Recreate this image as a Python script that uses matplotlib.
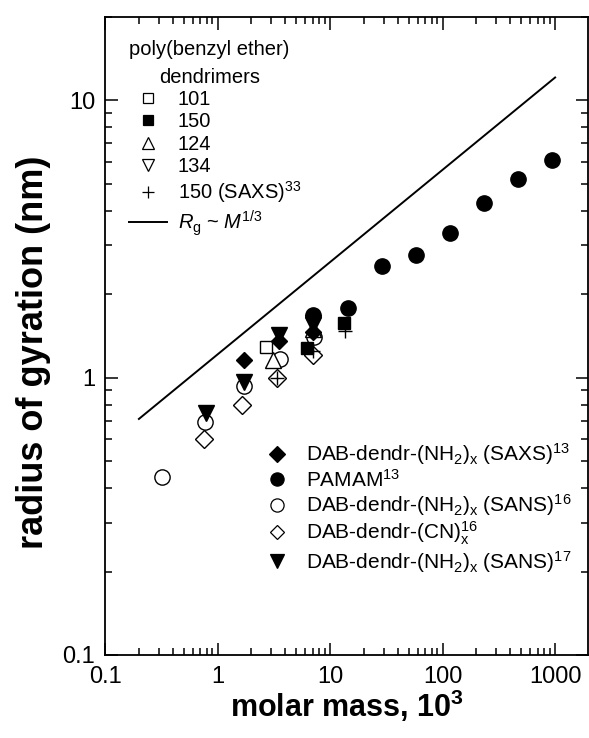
import numpy as np
import matplotlib
matplotlib.use("Agg")
import matplotlib.pyplot as plt
from matplotlib.lines import Line2D

plt.rcParams['font.family'] = ['Liberation Sans', 'DejaVu Sans']
plt.rcParams['mathtext.fontset'] = 'custom'
plt.rcParams['mathtext.rm'] = 'Liberation Sans'
plt.rcParams['mathtext.it'] = 'Liberation Sans:italic'
plt.rcParams['mathtext.bf'] = 'Liberation Sans:bold'

# poly(benzyl ether) dendrimers (molar mass in 10^3, Rg in nm)
pbe101_M = [2.7]
pbe101_Rg = [1.29]
pbe150_M = [6.3, 13.3]
pbe150_Rg = [1.28, 1.57]
pbe124_M = [3.1, 7.0]
pbe124_Rg = [1.16, 1.50]
pbe134_M = [7.0]
pbe134_Rg = [1.58]
pbe150saxs_M = [3.4, 7.1, 13.5]
pbe150saxs_Rg = [1.00, 1.25, 1.47]

# other dendrimers
dab_saxs_M = [1.71, 3.55, 7.1]
dab_saxs_Rg = [1.157, 1.36, 1.46]
pamam_M = [7.0, 14.3, 29.2, 58, 116, 233, 467, 934]
pamam_Rg = [1.68, 1.78, 2.52, 2.76, 3.32, 4.25, 5.19, 6.08]
dab_sans16_M = [0.32, 0.78, 1.71, 3.6, 7.2]
dab_sans16_Rg = [0.437, 0.69, 0.93, 1.17, 1.40]
dab_cn_M = [0.76, 1.64, 3.4, 7.1]
dab_cn_Rg = [0.60, 0.80, 1.00, 1.21]
dab_sans17_M = [0.79, 1.71, 3.5, 7.0]
dab_sans17_Rg = [0.745, 0.965, 1.42, 1.55]

# Rg ~ M^(1/3) guide line
guide_M = [0.2, 1000]
guide_Rg = [0.71, 12.1]

fig = plt.figure(figsize=(5.89, 7.38), dpi=100)
ax = fig.add_axes([0.1783, 0.1125, 0.8200, 0.8645])
ax.set_xscale('log')
ax.set_yscale('log')

k = dict(linestyle='none', color='black', markeredgewidth=1.0)
ax.plot(guide_M, guide_Rg, '-', color='black', lw=1.4)
ax.plot(dab_cn_M, dab_cn_Rg, marker='D', ms=9, mfc='white', **k)
ax.plot(dab_sans16_M, dab_sans16_Rg, marker='o', ms=11, mfc='white', **k)
ax.plot(pbe101_M, pbe101_Rg, marker='s', ms=9, mfc='white', **k)
ax.plot(pbe124_M, pbe124_Rg, marker='^', ms=11, mfc='white', **k)
ax.plot(pbe134_M, pbe134_Rg, marker='v', ms=11, mfc='white', **k)
ax.plot(pbe150_M, pbe150_Rg, marker='s', ms=9, mfc='black', **k)
ax.plot(dab_sans17_M, dab_sans17_Rg, marker='v', ms=11, mfc='black', **k)
ax.plot(dab_saxs_M, dab_saxs_Rg, marker='D', ms=8.5, mfc='black', **k)
ax.plot(pamam_M, pamam_Rg, marker='o', ms=11, mfc='black', **k)
ax.plot(pbe150saxs_M, pbe150saxs_Rg, marker='+', ms=10, **k)

ax.set_xlim(0.1, 1960)
ax.set_ylim(0.1, 20)
ax.set_xticks([0.1, 1, 10, 100, 1000])
ax.set_xticklabels(['0.1', '1', '10', '100', '1000'])
ax.set_yticks([0.1, 1, 10])
ax.set_yticklabels(['0.1', '1', '10'])
ax.tick_params(which='both', direction='in', top=True, right=True, width=1.1)
ax.tick_params(which='major', length=9, labelsize=17)
ax.tick_params(axis='x', which='major', pad=8)
ax.tick_params(axis='y', which='major', pad=7)
ax.tick_params(which='minor', length=5)
for s in ax.spines.values():
    s.set_linewidth(1.3)

ax.set_xlabel('molar mass, 10$^\\mathbf{3}$', fontsize=22, fontweight='bold', labelpad=0)
ax.set_ylabel('radius of gyration (nm)', fontsize=26, fontweight='bold')
ax.yaxis.set_label_coords(-0.112, 0.475)

# legend: poly(benzyl ether) dendrimers
mk = dict(linestyle='none', color='black', markeredgewidth=0.9)
h1 = [Line2D([], [], marker='s', ms=7, mfc='white', **mk),
      Line2D([], [], marker='s', ms=7, mfc='black', **mk),
      Line2D([], [], marker='^', ms=9, mfc='white', **mk),
      Line2D([], [], marker='v', ms=9, mfc='white', **mk),
      Line2D([], [], marker='+', ms=9, **mk),
      Line2D([], [], color='black', lw=1.4)]
l1 = ['101', '150', '124', '134', '150 (SAXS)$^{33}$',
      '$R_\\mathrm{g}$ ~ $M^{1/3}$']
leg1 = ax.legend(h1, l1, loc='upper left', bbox_to_anchor=(0.05, 0.964),
                 title='poly(benzyl ether)\ndendrimers', title_fontsize=14.5,
                 fontsize=14.5, frameon=False, handlelength=1.9,
                 handletextpad=0.5, labelspacing=0.16, borderaxespad=0,
                 borderpad=0, alignment='left')
leg1.get_title().set_multialignment('center')
leg1.get_title().set_linespacing(1.6)
ax.add_artist(leg1)

# legend: other dendrimers
h2 = [Line2D([], [], marker='D', ms=8, mfc='black', **mk),
      Line2D([], [], marker='o', ms=9.5, mfc='black', **mk),
      Line2D([], [], marker='o', ms=9.5, mfc='white', **mk),
      Line2D([], [], marker='D', ms=7, mfc='white', **mk),
      Line2D([], [], marker='v', ms=10, mfc='black', **mk)]
l2 = ['DAB-dendr-(NH$_2$)$_\\mathrm{x}$ (SAXS)$^{13}$',
      'PAMAM$^{13}$',
      'DAB-dendr-(NH$_2$)$_\\mathrm{x}$ (SANS)$^{16}$',
      'DAB-dendr-(CN)$_\\mathrm{x}^{16}$',
      'DAB-dendr-(NH$_2$)$_\\mathrm{x}$ (SANS)$^{17}$']
ax.legend(h2, l2, loc='upper left', bbox_to_anchor=(0.33, 0.335),
          fontsize=15, frameon=False, handlelength=1.2, handletextpad=0.8,
          labelspacing=0.08, borderaxespad=0, borderpad=0)

fig.savefig('out.png', dpi=100)
